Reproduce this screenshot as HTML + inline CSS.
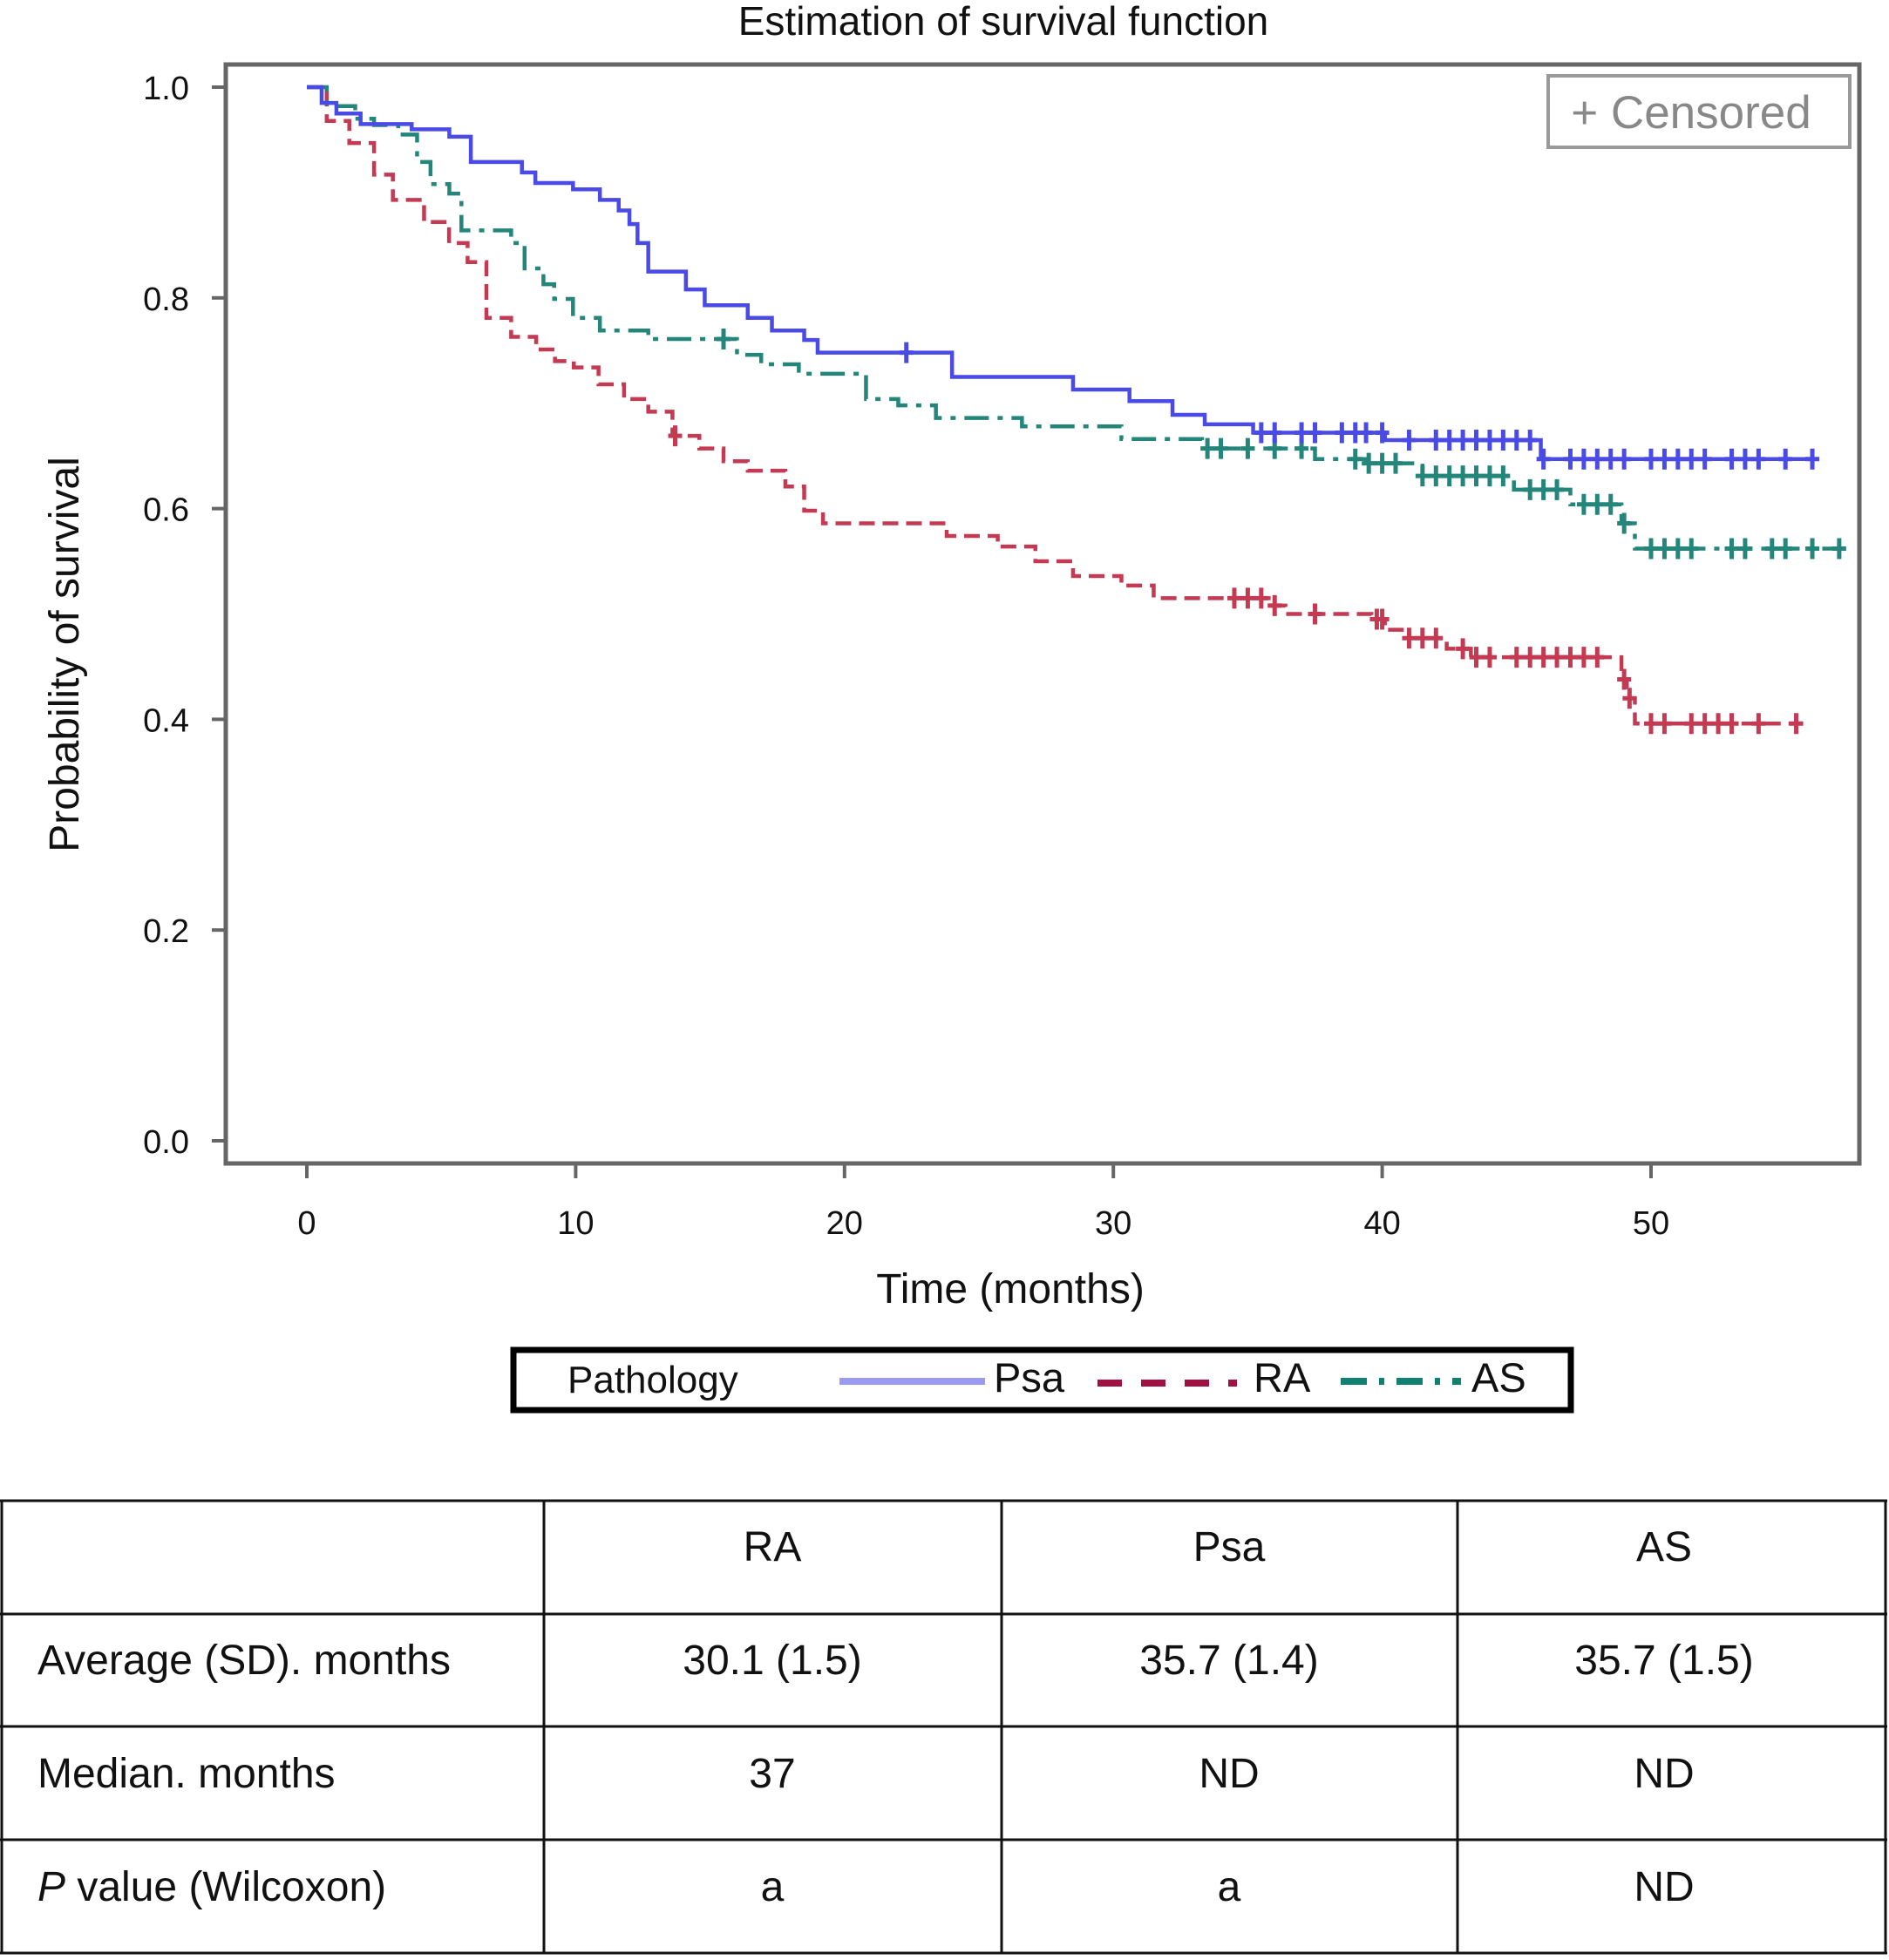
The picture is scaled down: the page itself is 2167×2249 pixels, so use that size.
<!DOCTYPE html>
<html><head><meta charset="utf-8"><style>
html,body{margin:0;padding:0;background:#fff;}
body{width:2167px;height:2244px;overflow:hidden;font-family:"Liberation Sans",sans-serif;}
svg text{font-family:"Liberation Sans",sans-serif;}
</style></head><body>
<svg id="chart" width="2167" height="2244" viewBox="0 0 2167 2244" xmlns="http://www.w3.org/2000/svg">
<text x="1151" y="40" font-size="46" text-anchor="middle" fill="#111">Estimation of survival function</text>
<rect x="259" y="74" width="1874" height="1261" fill="none" stroke="#666" stroke-width="5"/>
<g id="axes"></g>
<g id="series"></g>
<text transform="translate(90,751) rotate(-90)" font-size="48" text-anchor="middle" fill="#111">Probability of survival</text>
<text x="1159" y="1495" font-size="48" text-anchor="middle" fill="#111">Time (months)</text>
<g>
<rect x="1776" y="87" width="346" height="82" fill="#fff" stroke="#999" stroke-width="4"/>
<text x="1940" y="147" font-size="53" text-anchor="middle" fill="#888">+ Censored</text>
</g>
<g>
<rect x="589" y="1549" width="1213" height="69" fill="#fff" stroke="#000" stroke-width="7"/>
<text x="651" y="1598" font-size="44" fill="#111">Pathology</text>
<line x1="963" y1="1585" x2="1130" y2="1585" stroke="#9a9af0" stroke-width="8"/>
<text x="1140" y="1597" font-size="47" fill="#111">Psa</text>
<line x1="1259" y1="1587" x2="1419" y2="1587" stroke="#a01040" stroke-width="8" stroke-dasharray="28 22"/>
<text x="1438" y="1597" font-size="47" fill="#111">RA</text>
<line x1="1538" y1="1585" x2="1676" y2="1585" stroke="#108070" stroke-width="8" stroke-dasharray="30 14 6 14"/>
<text x="1688" y="1597" font-size="47" fill="#111">AS</text>
</g>
<g font-size="48" fill="#111" stroke-width="3">
<g stroke="#111">
<line x1="0" y1="1722" x2="2165" y2="1722"/><line x1="0" y1="1852" x2="2165" y2="1852"/>
<line x1="0" y1="1981" x2="2165" y2="1981"/><line x1="0" y1="2111" x2="2165" y2="2111"/>
<line x1="0" y1="2241" x2="2165" y2="2241"/>
<line x1="2" y1="1722" x2="2" y2="2241"/><line x1="624" y1="1722" x2="624" y2="2241"/>
<line x1="1149" y1="1722" x2="1149" y2="2241"/><line x1="1672" y1="1722" x2="1672" y2="2241"/>
<line x1="2163" y1="1722" x2="2163" y2="2241"/>
</g>
<text x="886" y="1791" text-anchor="middle">RA</text><text x="1410" y="1791" text-anchor="middle">Psa</text><text x="1909" y="1791" text-anchor="middle">AS</text>
<text x="43" y="1921">Average (SD). months</text><text x="886" y="1921" text-anchor="middle">30.1 (1.5)</text><text x="1410" y="1921" text-anchor="middle">35.7 (1.4)</text><text x="1909" y="1921" text-anchor="middle">35.7 (1.5)</text>
<text x="43" y="2051">Median. months</text><text x="886" y="2051" text-anchor="middle">37</text><text x="1410" y="2051" text-anchor="middle">ND</text><text x="1909" y="2051" text-anchor="middle">ND</text>
<text x="43" y="2181"><tspan font-style="italic">P</tspan> value (Wilcoxon)</text><text x="886" y="2181" text-anchor="middle">a</text><text x="1410" y="2181" text-anchor="middle">a</text><text x="1909" y="2181" text-anchor="middle">ND</text>
</g>
</svg>
<script>
const xTicks=[0,10,20,30,40,50];
const yTicks=[0.0,0.2,0.4,0.6,0.8,1.0];
const psaTimes=[0,0.55,1.1,2.0,3.9,5.3,6.1,8.0,8.5,9.9,10.9,11.6,12.0,12.3,12.7,14.1,14.8,16.4,17.3,18.5,19.0,24.0,28.5,30.6,32.2,33.4,35.2,40.1,45.9];
const psaSurv=[1.0,0.985,0.975,0.965,0.96,0.953,0.929,0.919,0.909,0.903,0.893,0.883,0.87,0.852,0.825,0.808,0.793,0.781,0.769,0.76,0.748,0.725,0.713,0.702,0.689,0.68,0.672,0.665,0.647];
const psaEnd=56;
const psaCens=[22.3,35.5,36,37,37.5,38.5,39,39.4,40,41,42,42.5,43,43.5,44,44.5,45,45.5,46,47,47.5,48,48.5,49,50,50.5,51,51.5,52,53,53.5,54,55,56];
const raTimes=[0,0.74,1.58,2.5,3.2,4.36,5.29,5.98,6.68,7.6,8.53,9.23,9.93,10.85,11.8,12.7,13.6,14.6,15.5,16.4,17.8,18.5,19.2,23.8,25.7,27.1,28.5,30.3,31.5,35.9,36.4,39.6,40.1,41.0,42.4,43.3,48.9,49.1,49.4];
const raSurv=[1.0,0.968,0.947,0.917,0.893,0.872,0.852,0.834,0.781,0.763,0.751,0.74,0.734,0.718,0.704,0.692,0.669,0.657,0.645,0.636,0.621,0.598,0.586,0.574,0.564,0.55,0.536,0.527,0.515,0.508,0.5,0.495,0.485,0.477,0.467,0.459,0.438,0.42,0.396];
const raEnd=55.4;
const raCens=[13.7,34.5,35,35.5,36,37.5,39.8,40,41,41.5,42,43,43.5,44,45,45.5,46,46.5,47,47.5,48,49,49.2,50,50.5,51.5,52,52.5,53,54,55.4];
const asTimes=[0,0.74,1.8,2.5,3.4,4.1,4.6,5.3,5.75,7.6,8.1,8.8,9.2,9.9,10.9,12.7,16.0,16.9,18.3,20.8,22.0,23.4,26.6,30.3,33.3,37.5,39.4,41.5,44.9,47.0,48.9,49.4];
const asSurv=[1.0,0.982,0.97,0.964,0.955,0.929,0.908,0.899,0.864,0.852,0.828,0.813,0.799,0.781,0.769,0.761,0.746,0.737,0.728,0.704,0.698,0.686,0.678,0.666,0.657,0.647,0.643,0.631,0.618,0.604,0.586,0.562];
const asEnd=57.2;
const asCens=[15.5,33.5,34,35,36,37,39,39.5,40,40.5,41.5,42,42.5,43,43.5,44,44.5,45.5,46,46.5,47.5,48,48.5,49,50,50.5,51,51.5,53,53.5,54.5,55,56,57];

const NS='http://www.w3.org/2000/svg';
function xs(t){return 352+t*30.84;}
function ys(p){return 1309-p*1209;}
function mk(tag,attrs,parent){const e=document.createElementNS(NS,tag);for(const k in attrs)e.setAttribute(k,attrs[k]);parent.appendChild(e);return e;}
const axes=document.getElementById('axes');
xTicks.forEach(v=>{
  const l=mk('line',{x1:xs(v),y1:1335,x2:xs(v),y2:1352,stroke:'#666','stroke-width':4},axes);
  
  
  const t=mk('text',{x:xs(v),y:1416,'font-size':38,'text-anchor':'middle',fill:'#111'},axes);
  
  
  t.textContent=String(v);
});
yTicks.forEach(v=>{
  const l=mk('line',{x1:243,y1:ys(v),x2:259,y2:ys(v),stroke:'#666','stroke-width':4},axes);
  
  
  const t=mk('text',{x:217,y:ys(v)+14,'font-size':38,'text-anchor':'end',fill:'#111'},axes);
  
  
  t.textContent=v.toFixed(1);
});
function survAt(times,surv,t){let s=surv[0];for(let i=0;i<times.length;i++){if(times[i]<=t)s=surv[i];}return s;}
const g=document.getElementById('series');
function drawSeries(name,times,surv,end,cens,color,dash){
  let d='M'+xs(times[0])+','+ys(surv[0]);
  for(let i=1;i<times.length;i++){d+=' H'+xs(times[i])+' V'+ys(surv[i]);}
  d+=' H'+xs(end);
  const p=mk('path',{d:d,fill:'none',stroke:color,'stroke-width':4.5,'stroke-dasharray':dash},g);
  
  
  cens.forEach(t=>{
    const s=survAt(times,surv,t);
    const c=mk('path',{d:'M'+(xs(t)-8)+','+ys(s)+' H'+(xs(t)+8)+' M'+xs(t)+','+(ys(s)-12)+' V'+(ys(s)+12),stroke:color,'stroke-width':5,fill:'none'},g);
    
    
  });
}
drawSeries('ra',raTimes,raSurv,raEnd,raCens,'#c43a52','18 9');
drawSeries('as',asTimes,asSurv,asEnd,asCens,'#24857a','28 10 6 10');
drawSeries('psa',psaTimes,psaSurv,psaEnd,psaCens,'#4a4ae6','none');
</script>
</body></html>
